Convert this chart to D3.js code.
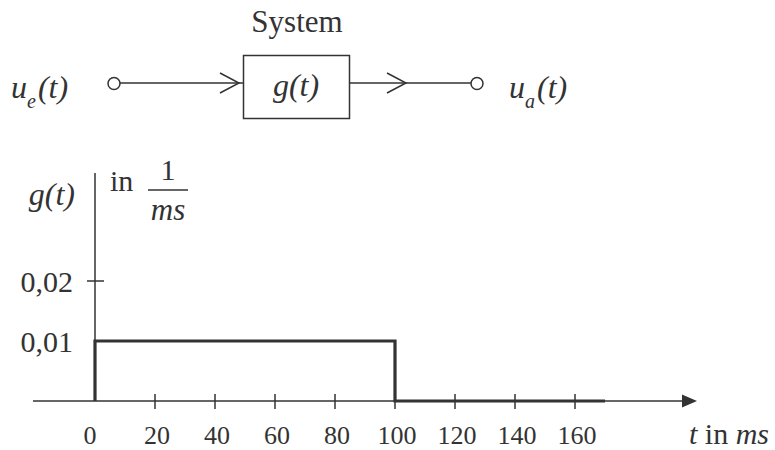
<!DOCTYPE html>

<head>
    <meta charset="utf-8">
    <style>
        body {
            margin: 0;
            background-color: #fff;
            overflow: hidden;
        }
    </style>
</head>

<body>
    <div id="chart-area"></div>

    <script src="https://d3js.org/d3.v7.min.js"></script>
    <script>
        var tTicks = [0, 20, 40, 60, 80, 100, 120, 140, 160]
        var gTicks = [0.02]
        var gLabels = [0.01, 0.02]
        var pulseT = [0, 0, 100, 100, 170]
        var pulseG = [0, 0.01, 0.01, 0, 0]

        var width = 775,
            height = 450
        var ink = "#333"
        var serif = "'Liberation Serif', 'Times New Roman', Times, serif"

        var x = d3.scaleLinear().domain([0, 160]).range([95, 575])
        var y = d3.scaleLinear().domain([0, 0.02]).range([401, 281])

        var svg = d3.select("#chart-area")
            .append("svg")
            .attr("width", width)
            .attr("height", height)
            .style("font-family", serif)
            .attr("fill", ink)

        function label(sel, size, italic) {
            return sel.style("font-family", serif)
                .style("font-size", size + "px")
                .style("font-style", italic ? "italic" : "normal")
                .attr("fill", ink)
        }

        // block diagram
        var diag = svg.append("g")

        label(diag.append("text"), 31)
            .attr("x", 297).attr("y", 32)
            .attr("text-anchor", "middle")
            .text("System")

        diag.append("rect")
            .attr("x", 243.5).attr("y", 55.5)
            .attr("width", 106).attr("height", 63)
            .attr("fill", "none").attr("stroke", ink).attr("stroke-width", 1.5)

        label(diag.append("text"), 32, true)
            .attr("x", 296).attr("y", 96)
            .attr("text-anchor", "middle")
            .text("g(t)")

        var wires = [[120, 243], [350, 471]]
        diag.selectAll(".wire")
            .data(wires)
            .join("line")
            .attr("class", "wire")
            .attr("x1", (d) => d[0]).attr("x2", (d) => d[1])
            .attr("y1", 83).attr("y2", 83)
            .attr("stroke", ink).attr("stroke-width", 1.5)

        var chevrons = [239, 406]
        diag.selectAll(".chev")
            .data(chevrons)
            .join("path")
            .attr("class", "chev")
            .attr("d", (d) => `M${d - 19},73 L${d},83 L${d - 19},93`)
            .attr("fill", "none").attr("stroke", ink).attr("stroke-width", 1.5)

        diag.selectAll(".port")
            .data([114, 477])
            .join("circle")
            .attr("class", "port")
            .attr("cx", (d) => d).attr("cy", 83.5).attr("r", 6)
            .attr("fill", "#fff").attr("stroke", ink).attr("stroke-width", 1.5)

        function signal(x0, sub) {
            var t = label(diag.append("text"), 32, true)
                .attr("x", x0).attr("y", 98)
            t.append("tspan").text("u")
            t.append("tspan").attr("dy", 10).style("font-size", "20px").text(sub)
            t.append("tspan").attr("dy", -10).attr("dx", 2).text("(t)")
        }
        signal(11, "e")
        signal(509, "a")

        // chart
        var chart = svg.append("g")

        chart.append("line")
            .attr("x1", 95).attr("x2", 95)
            .attr("y1", 173).attr("y2", y(0))
            .attr("stroke", ink).attr("stroke-width", 1.5)

        chart.append("line")
            .attr("x1", 33).attr("x2", 684)
            .attr("y1", y(0)).attr("y2", y(0))
            .attr("stroke", ink).attr("stroke-width", 1.5)

        chart.append("path")
            .attr("d", `M682,${y(0) - 6.5} L697,${y(0)} L682,${y(0) + 6.5} Z`)
            .attr("fill", ink)

        chart.selectAll(".xtick")
            .data(tTicks.filter((d) => d > 0))
            .join("line")
            .attr("class", "xtick")
            .attr("x1", (d) => x(d)).attr("x2", (d) => x(d))
            .attr("y1", y(0) - 7).attr("y2", y(0) + 8)
            .attr("stroke", ink).attr("stroke-width", 1.5)

        label(chart.selectAll(".xlab")
            .data(tTicks)
            .join("text"), 26)
            .attr("class", "xlab")
            .attr("x", (d) => x(d) + (d == 0 ? -5 : 2))
            .attr("y", 444)
            .attr("text-anchor", "middle")
            .text((d) => d)

        chart.selectAll(".ytick")
            .data(gTicks)
            .join("line")
            .attr("class", "ytick")
            .attr("x1", 87).attr("x2", 104)
            .attr("y1", (d) => y(d)).attr("y2", (d) => y(d))
            .attr("stroke", ink).attr("stroke-width", 1.5)

        var fmt = (d) => d3.format(".2f")(d).replace(".", ",")
        label(chart.selectAll(".ylab")
            .data(gLabels)
            .join("text"), 30)
            .attr("class", "ylab")
            .attr("x", 73)
            .attr("y", (d) => y(d) + 11)
            .attr("text-anchor", "end")
            .text(fmt)

        var line = d3.line()
            .x((d, i) => x(pulseT[i]))
            .y((d, i) => y(pulseG[i]))

        chart.append("path")
            .datum(pulseT)
            .attr("d", line)
            .attr("fill", "none")
            .attr("stroke", ink)
            .attr("stroke-width", 3.2)
            .attr("stroke-linejoin", "miter")

        // axis titles
        label(chart.append("text"), 32, true)
            .attr("x", 75).attr("y", 205)
            .attr("text-anchor", "end")
            .text("g(t)")

        label(chart.append("text"), 30)
            .attr("x", 110).attr("y", 191)
            .text("in")

        label(chart.append("text"), 30)
            .attr("x", 168).attr("y", 180)
            .attr("text-anchor", "middle")
            .text("1")

        chart.append("line")
            .attr("x1", 148).attr("x2", 188)
            .attr("y1", 190).attr("y2", 190)
            .attr("stroke", ink).attr("stroke-width", 1.5)

        label(chart.append("text"), 31, true)
            .attr("x", 168).attr("y", 220)
            .attr("text-anchor", "middle")
            .text("ms")

        var tlab = label(chart.append("text"), 30)
            .attr("x", 689).attr("y", 444)
        tlab.append("tspan").style("font-style", "italic").text("t")
        tlab.append("tspan").text(" in ")
        tlab.append("tspan").style("font-style", "italic").text("ms")
    </script>
